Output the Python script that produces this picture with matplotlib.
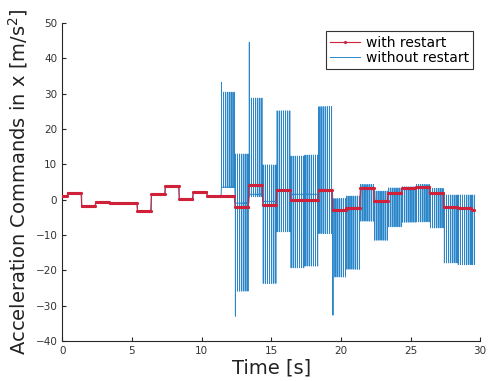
import numpy as np
import matplotlib
matplotlib.use('Agg')
from matplotlib import pyplot as plt

# segment start times [s] (1 s commands)
seg_t = [0, 0.4, 1.4, 2.4, 3.4, 4.4, 5.4, 6.4, 7.4, 8.4, 9.4, 10.4, 11.4, 12.4, 13.4,
         14.4, 15.4, 16.4, 17.4, 18.4, 19.4, 20.4, 21.4, 22.4, 23.4, 24.4, 25.4, 26.4,
         27.4, 28.4, 29.4]
t_end = 29.6

# with restart (red)
red_val = [1.0, 1.9, -1.8, -0.8, -0.9, -1.0, -3.2, 1.6, 3.8, 0.3, 2.1, 1.1, 1.1, -2.0, 4.1,
           -1.6, 2.6, -0.2, -0.2, 2.7, -3.0, -2.5, 3.3, -0.4, 1.9, 3.2, 3.6, 1.8,
           -2.1, -2.4, -2.9]

# without restart (blue): oscillation from 11.4 s on
osc_t = [11.4, 12.4, 13.4, 14.4, 15.4, 16.4, 17.4, 18.4, 19.4, 20.4, 21.4, 22.4, 23.4,
         24.4, 25.4, 26.4, 27.4, 28.4, 29.4]
osc_base = [3.5, -1.0, 1.5, -0.5, 2.6, 1.5, 1.5, 2.7, -3.0, -2.5, 3.3, -0.4, 1.9, 3.2,
            3.6, 1.8, -2.1, -2.4, -2.9]
osc_hi = [30.4, 12.9, 28.7, 9.8, 25.1, 12.3, 12.6, 26.3, 0.3, 1.0, 4.3, 2.4, 3.3, 3.6,
          4.3, 3.2, 1.3, 1.3, 1.3]
osc_lo = [4.1, -25.9, 0.8, -23.7, -9.1, -19.3, -18.8, -9.6, -21.9, -19.7, -6.1, -11.5,
          -7.7, -6.4, -6.3, -8.0, -17.9, -18.4, -18.4]
# first-spike overshoots
spike_first = [33.1, -33.0, 44.5, None, None, None, None, None, -32.7, None, None, None,
               None, None, None, None, None, None, None]

# red series (step, sampled)
ts = np.arange(0, t_end, 0.05)
edges = np.array(seg_t[1:])
red = np.array(red_val)[np.searchsorted(edges, ts, side='right')]

# blue series
bt, by = [], []
for i in range(len(seg_t)):
    t0 = seg_t[i]
    t1 = seg_t[i + 1] if i + 1 < len(seg_t) else t_end
    if t0 < osc_t[0]:
        bt += [t0, t1]
        by += [red_val[i], red_val[i]]
        continue
    j = osc_t.index(t0)
    b, hi, lo = osc_base[j], osc_hi[j], osc_lo[j]
    tk = t0 + 0.03
    k = 0
    while tk < t1 - 0.02:
        top = hi
        bot = lo
        if k == 0 and spike_first[j] is not None:
            if spike_first[j] > 0:
                top = spike_first[j]
            else:
                bot = spike_first[j]
        bt += [tk - 0.001, tk, tk + 0.001, tk + 0.002]
        by += [b, top, bot, b]
        tk += 0.15
        k += 1
    bt += [t1]
    by += [b]

fig = plt.figure(figsize=(4.9, 3.81), dpi=100)
ax = fig.add_axes([0.127, 0.105, 0.853, 0.835])

ax.plot(bt, by, color='#2a86c8', lw=0.7, label='without restart', zorder=2)
ax.plot(ts, red, color='#d0213a', lw=0.8, marker='.', ms=2.5, label='with restart', zorder=3)

ax.set_xlim(0, 30)
ax.set_ylim(-40, 50)
ax.set_xticks(range(0, 31, 5))
ax.set_yticks(range(-40, 51, 10))
for s in ['top', 'right']:
    ax.spines[s].set_visible(False)
for s in ['left', 'bottom']:
    ax.spines[s].set_color('#262626')
    ax.spines[s].set_linewidth(0.8)
ax.tick_params(direction='in', length=3, labelsize=7.5, labelcolor='#333333', color='#262626')

ax.set_xlabel('Time [s]', fontsize=14, labelpad=2, color='#222222')
ax.set_ylabel('Acceleration Commands in x [m/s$^2$]', fontsize=14, labelpad=4, color='#222222')

h, l = ax.get_legend_handles_labels()
leg = ax.legend(h[::-1], l[::-1], loc='upper right', fontsize=10, fancybox=False,
                framealpha=1, edgecolor='#333333', handlelength=2.2, borderpad=0.3,
                labelspacing=0.1, handletextpad=0.4, bbox_to_anchor=(1.0, 0.995))
leg.get_frame().set_linewidth(0.8)

fig.savefig('out.png', dpi=100)
